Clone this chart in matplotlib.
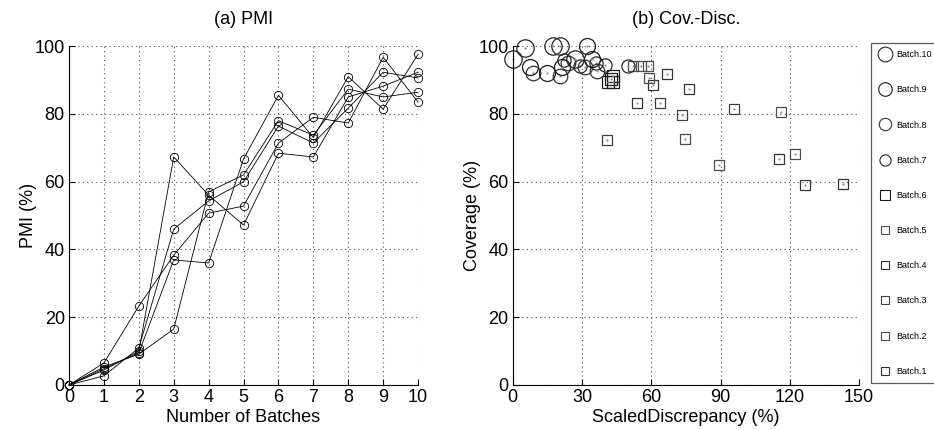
import matplotlib
matplotlib.use('Agg')
import matplotlib.pyplot as plt
from matplotlib.lines import Line2D

plt.rcParams['font.family'] = ['Liberation Sans', 'DejaVu Sans']

# (a) PMI vs number of batches, five runs
batches = [0, 1, 2, 3, 4, 5, 6, 7, 8, 9, 10]
pmi_run1 = [0, 6.5, 23.3, 38.3, 50.7, 52.8, 71.4, 79.0, 77.3, 96.7, 83.5]
pmi_run2 = [0, 4.4, 10.0, 67.3, 56.0, 47.2, 68.4, 67.3, 85.0, 88.2, 92.3]
pmi_run3 = [0, 5.3, 9.1, 16.5, 57.0, 62.0, 78.0, 73.7, 87.3, 85.0, 86.4]
pmi_run4 = [0, 4.8, 9.5, 36.9, 36.0, 66.7, 85.5, 73.0, 91.0, 81.4, 97.6]
pmi_run5 = [0, 2.7, 10.9, 46.0, 54.3, 60.0, 76.4, 71.4, 81.7, 92.3, 90.6]

# (b) coverage vs scaled discrepancy, per batch
disc_b1 = [115.2, 126.6, 143.2]
cov_b1 = [66.7, 59.1, 59.3]
disc_b2 = [74.6, 89.2, 116.2, 122.4]
cov_b2 = [72.5, 65.0, 80.7, 68.3]
disc_b3 = [63.9, 73.5, 95.7, 41.0]
cov_b3 = [83.2, 79.8, 81.5, 72.3]
disc_b4 = [60.6, 66.8, 53.8, 76.3]
cov_b4 = [88.5, 91.7, 83.2, 87.3]
disc_b5 = [52.0, 55.5, 58.6, 58.9]
cov_b5 = [94.2, 94.2, 94.2, 90.6]
disc_b6 = [41.4, 43.3, 43.3, 42.5]
cov_b6 = [89.5, 91.2, 89.5, 90.2]
disc_b7 = [40.0, 50.0, 36.0, 29.0, 22.0]
cov_b7 = [94.4, 94.2, 95.0, 94.0, 96.0]
disc_b8 = [8.9, 20.5, 31.3, 36.6, 24.0]
cov_b8 = [92.2, 91.2, 93.7, 92.7, 95.0]
disc_b9 = [32.0, 7.5, 15.0, 21.2, 34.2]
cov_b9 = [100.0, 93.7, 92.2, 93.7, 96.2]
disc_b10 = [5.3, 17.6, 20.5, 27.0, 0.0]
cov_b10 = [99.4, 100.0, 100.0, 96.2, 96.2]

batch_labels = ['Batch.1', 'Batch.2', 'Batch.3', 'Batch.4', 'Batch.5',
                'Batch.6', 'Batch.7', 'Batch.8', 'Batch.9', 'Batch.10']


def style_axes(ax):
    for side in ['top', 'right']:
        ax.spines[side].set_visible(False)
    ax.spines['left'].set_linewidth(0.8)
    ax.spines['bottom'].set_linewidth(0.8)
    ax.grid(True, linestyle=(0, (1, 3)), color='0.3', linewidth=0.8)
    ax.set_axisbelow(True)
    ax.tick_params(direction='in', length=4, width=0.8, labelsize=13, pad=3)


fig = plt.figure(figsize=(9.34, 4.30), dpi=100)

# ---------- (a) PMI ----------
ax1 = fig.add_axes([0.0739, 0.1047, 0.3737, 0.788])
for run in [pmi_run1, pmi_run2, pmi_run3, pmi_run4, pmi_run5]:
    ax1.plot(batches, run, color='black', linewidth=0.6, marker='o',
             markersize=6, markerfacecolor='none', markeredgecolor='black',
             markeredgewidth=0.6, clip_on=False)
ax1.set_xlim(0, 10)
ax1.set_ylim(0, 100)
ax1.set_xticks(range(0, 11))
ax1.set_yticks(range(0, 101, 20))
style_axes(ax1)
ax1.set_xlabel('Number of Batches', fontsize=13, labelpad=2)
ax1.set_ylabel('PMI (%)', fontsize=13, labelpad=-2)
ax1.set_title('(a) PMI', fontsize=13, pad=16)

# ---------- (b) Cov.-Disc. ----------
ax2 = fig.add_axes([0.549, 0.1047, 0.3708, 0.788])
disc_all = [disc_b1, disc_b2, disc_b3, disc_b4, disc_b5,
            disc_b6, disc_b7, disc_b8, disc_b9, disc_b10]
cov_all = [cov_b1, cov_b2, cov_b3, cov_b4, cov_b5,
           cov_b6, cov_b7, cov_b8, cov_b9, cov_b10]
marker_sizes = [6.5, 7.0, 7.0, 7.5, 7.5, 8.5, 9.5, 10.5, 11.5, 12.5]
edge_colors = ['0.2', '0.3', '0.25', '0.2', '0.3', '0.1', '0.15', '0.2', '0.1', '0.15']
handles = []
for i in range(10):
    mk = 's' if i < 6 else 'o'
    ax2.plot(disc_all[i], cov_all[i], linestyle='none', marker=mk,
             markersize=marker_sizes[i], markerfacecolor='none',
             markeredgecolor=edge_colors[i], markeredgewidth=0.9, clip_on=False)
    ax2.plot(disc_all[i], cov_all[i], linestyle='none', marker='.',
             markersize=1.2, color='0.55', clip_on=False)
    handles.append(Line2D([], [], linestyle='none', marker=mk,
                          markersize=marker_sizes[i] * 0.85, markerfacecolor='none',
                          markeredgecolor=edge_colors[i], markeredgewidth=0.8))
ax2.set_xlim(0, 150)
ax2.set_ylim(0, 100)
ax2.set_xticks(range(0, 151, 30))
ax2.set_yticks(range(0, 101, 20))
style_axes(ax2)
ax2.set_xlabel('ScaledDiscrepancy (%)', fontsize=13, labelpad=2)
ax2.set_ylabel('Coverage (%)', fontsize=13, labelpad=-2)
ax2.set_title('(b) Cov.-Disc.', fontsize=13, pad=16)

leg = fig.legend(handles[::-1], batch_labels[::-1], loc='upper left',
                 bbox_to_anchor=(871 / 934, 1 - 43 / 430), fontsize=6.5,
                 frameon=True, fancybox=False, edgecolor='0.2',
                 labelspacing=2.9, handlelength=1.6, handletextpad=0.4,
                 borderpad=0.8, borderaxespad=0)
leg.get_frame().set_linewidth(0.9)

fig.savefig('out.png', dpi=100)
